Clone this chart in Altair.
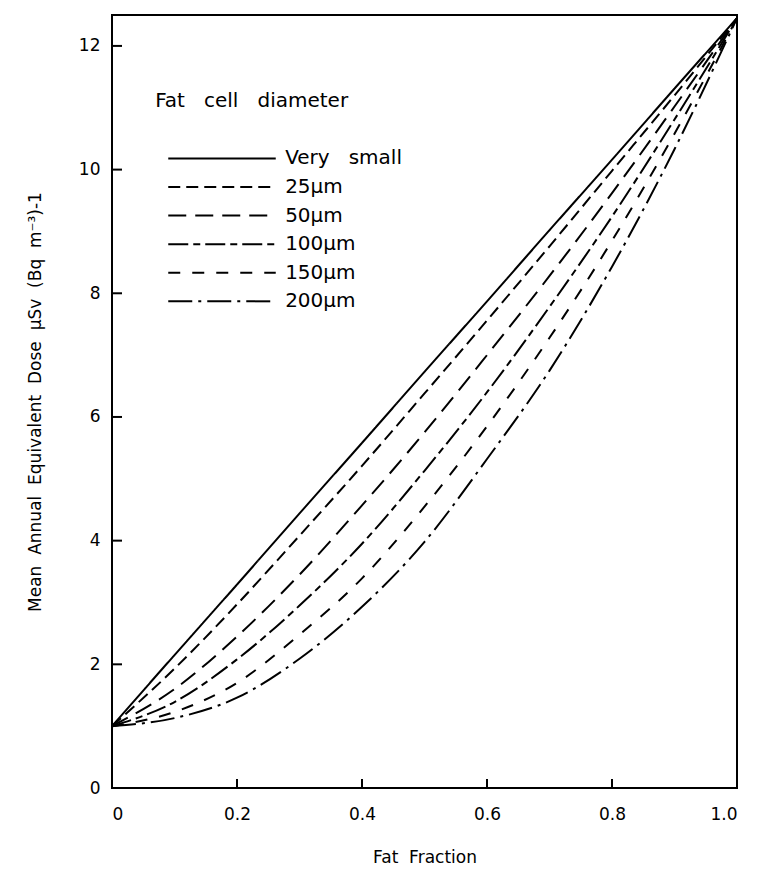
import altair as alt
import pandas as pd

fat_fraction = [0.0, 0.1, 0.2, 0.3, 0.4, 0.5, 0.6, 0.7, 0.8, 0.9, 1.0]
series_names = ["Very small", "25μm", "50μm", "100μm", "150μm", "200μm"]
dose_very_small = [1.00, 2.15, 3.29, 4.44, 5.58, 6.73, 7.87, 9.02, 10.16, 11.31, 12.45]
dose_25 = [1.00, 1.93, 2.97, 4.08, 5.21, 6.38, 7.56, 8.76, 9.98, 11.20, 12.45]
dose_50 = [1.00, 1.60, 2.45, 3.45, 4.57, 5.75, 7.00, 8.28, 9.62, 11.02, 12.45]
dose_100 = [1.00, 1.39, 2.08, 2.95, 3.95, 5.13, 6.40, 7.78, 9.24, 10.81, 12.45]
dose_150 = [1.00, 1.23, 1.70, 2.48, 3.39, 4.55, 5.85, 7.28, 8.85, 10.58, 12.45]
dose_200 = [1.00, 1.13, 1.46, 2.09, 2.93, 3.98, 5.32, 6.75, 8.43, 10.33, 12.45]

x_ticks = [0.0, 0.2, 0.4, 0.6, 0.8, 1.0]
y_ticks = [0, 2, 4, 6, 8, 10, 12]

all_series = [dose_very_small, dose_25, dose_50, dose_100, dose_150, dose_200]
rows = []
for name, vals in zip(series_names, all_series):
    for xv, yv in zip(fat_fraction, vals):
        rows.append({"x": xv, "y": yv, "series": name})
df = pd.DataFrame(rows)

dashes = [[1, 0], [12, 6], [18, 9], [20, 5, 7, 5], [12, 12], [24, 6, 3, 6]]
dash_scale = alt.Scale(domain=series_names, range=dashes)

W, H = 625, 773
FONT = "DejaVu Sans"
SP = "\u00a0\u00a0"

xscale = alt.Scale(domain=[0, 1], nice=False, zero=False)
yscale = alt.Scale(domain=[0, 12.5], nice=False, zero=False)

lines = alt.Chart(df).mark_line(color="black", strokeWidth=2, interpolate="monotone").encode(
    x=alt.X("x:Q", scale=xscale,
            axis=alt.Axis(title="Fat" + SP + "Fraction", values=x_ticks, domain=False, ticks=False,
                          grid=False, labelPadding=18, titlePadding=27,
                          labelExpr="datum.value == 0 ? '0' : format(datum.value, '.1f')")),
    y=alt.Y("y:Q", scale=yscale,
            axis=alt.Axis(title=SP.join(["Mean", "Annual", "Equivalent", "Dose", "μSv", "(Bq", "m⁻³)-1"]),
                          values=y_ticks, format="d", domain=False, ticks=False, grid=False,
                          labelPadding=12, titlePadding=34)),
    strokeDash=alt.StrokeDash("series:N", scale=dash_scale, legend=None),
    detail="series:N",
)

# inward tick marks
xt = pd.DataFrame({"x": x_ticks[1:-1]})
x_tick_marks = alt.Chart(xt).mark_rule(color="black", strokeWidth=2).encode(
    x=alt.X("x:Q", scale=xscale), y=alt.value(H), y2=alt.value(H - 9))
yt = pd.DataFrame({"y": y_ticks[1:]})
y_tick_marks = alt.Chart(yt).mark_rule(color="black", strokeWidth=2).encode(
    y=alt.Y("y:Q", scale=yscale), x=alt.value(0), x2=alt.value(10))

# legend drawn inside the plot
leg_rows = []
for i, name in enumerate(series_names):
    leg_rows.append({"series": name, "x1": 0.09, "x2": 0.262, "xt": 0.277, "y": 10.18 - 0.462 * i,
                     "label": name.replace(" ", "\u00a0\u00a0\u00a0")})
leg = pd.DataFrame(leg_rows)
leg_lines = alt.Chart(leg).mark_rule(color="black", strokeWidth=2).encode(
    x=alt.X("x1:Q", scale=xscale), x2="x2:Q", y=alt.Y("y:Q", scale=yscale),
    strokeDash=alt.StrokeDash("series:N", scale=dash_scale, legend=None))
leg_text = alt.Chart(leg).mark_text(align="left", baseline="middle", font=FONT, fontSize=20,
                                   color="black").encode(
    x=alt.X("xt:Q", scale=xscale), y=alt.Y("y:Q", scale=yscale), text="label:N")
leg_title = alt.Chart(pd.DataFrame({"x": [0.069], "y": [11.11],
                                    "t": ["Fat\u00a0\u00a0\u00a0cell\u00a0\u00a0\u00a0diameter"]})).mark_text(
    align="left", baseline="middle", font=FONT, fontSize=20, color="black").encode(
    x=alt.X("x:Q", scale=xscale), y=alt.Y("y:Q", scale=yscale), text="t:N")

chart = alt.layer(lines, x_tick_marks, y_tick_marks, leg_lines, leg_text, leg_title).properties(
    width=W, height=H, autosize="none", background="white",
    padding={"left": 112, "top": 15, "right": 23, "bottom": 85},
).configure_view(stroke="black", strokeWidth=2).configure_axis(
    labelFont=FONT, titleFont=FONT, labelFontSize=17, titleFontSize=17,
    labelColor="black", titleColor="black", titleFontWeight="normal",
)

chart.save("out.html", embed_options={"renderer": "svg", "actions": False})
